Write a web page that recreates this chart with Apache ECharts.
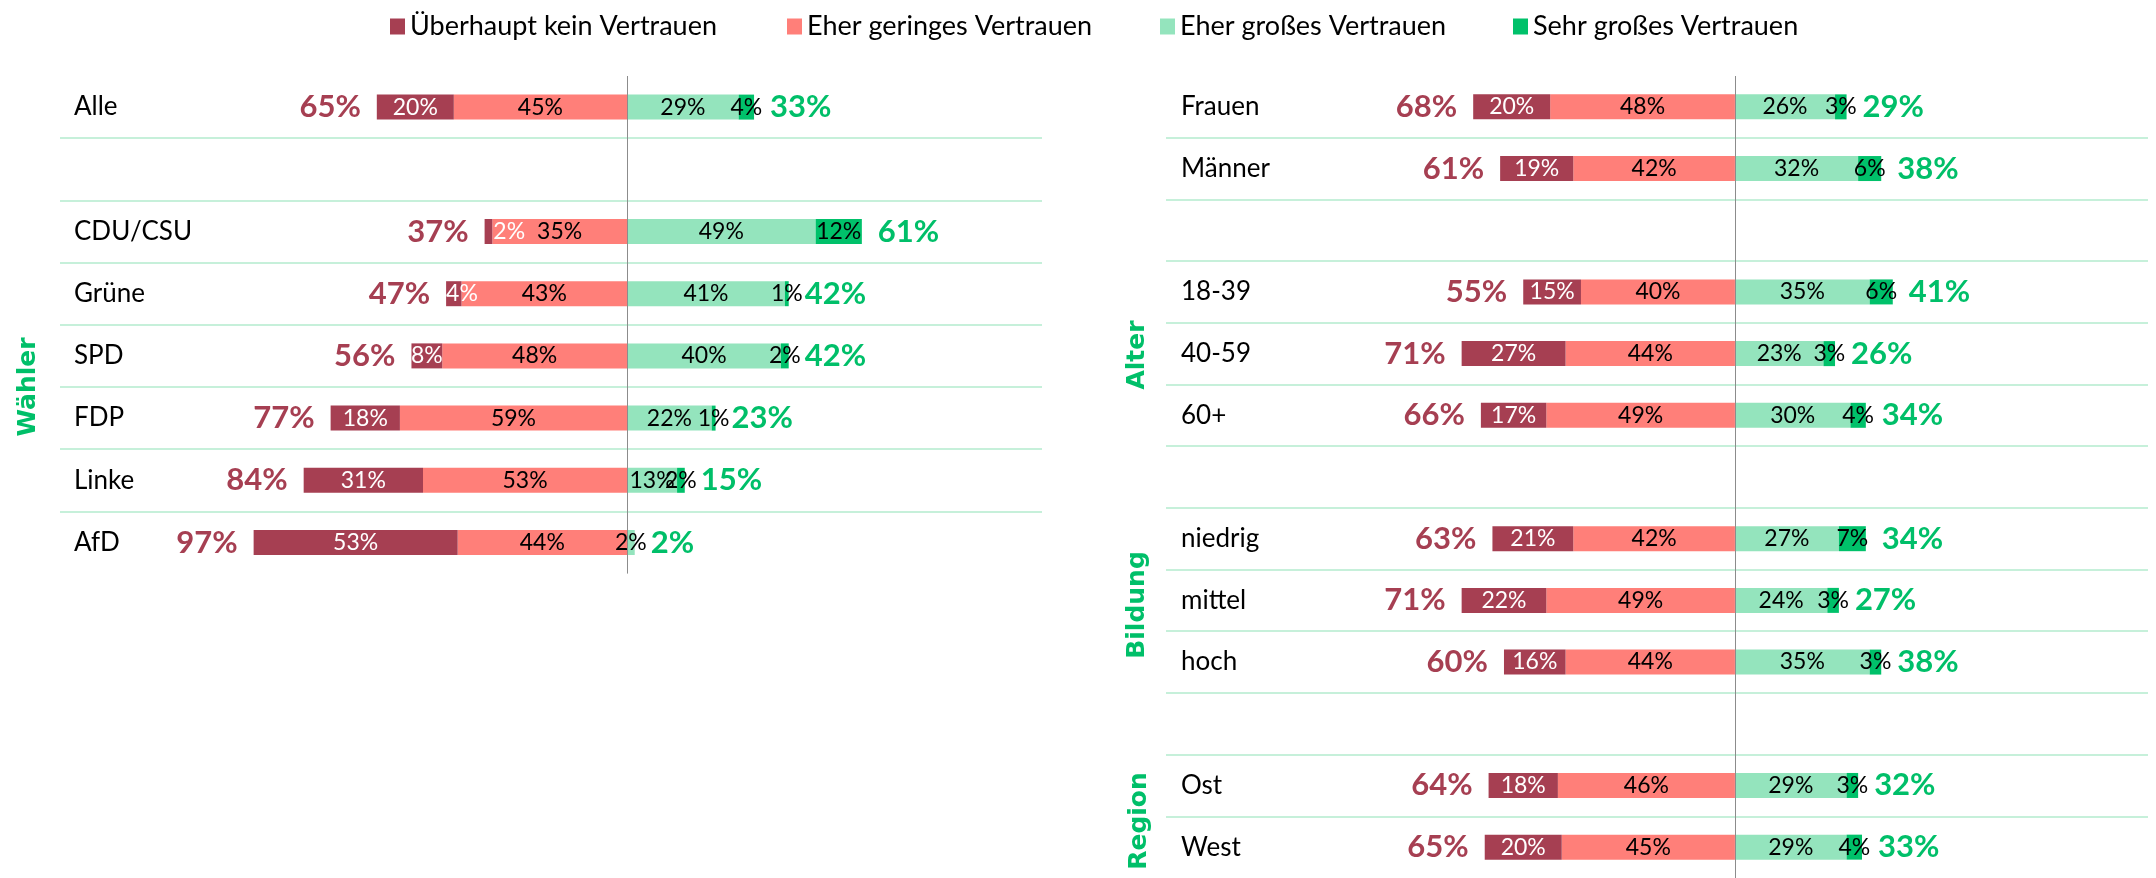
<!DOCTYPE html>
<html>
<head>
<meta charset="utf-8">
<script src="https://cdn.jsdelivr.net/npm/echarts@6/dist/echarts.min.js"></script>
<style>
  html, body { margin: 0; padding: 0; background: #fff; }
  #main { width: 2156px; height: 878px; }
</style>
</head>
<body>
<div id="main"></div>
<script>
// Vertrauen nach Gruppen (Werte in %)
const leftCats = ['Alle', ' ', 'CDU/CSU', 'Grüne', 'SPD', 'FDP', 'Linke', 'AfD'];
const leftKein = [20, null, 2, 4, 8, 18, 31, 53];
const leftGering = [45, null, 35, 43, 48, 59, 53, 44];
const leftEherGross = [29, null, 49, 41, 40, 22, 13, 2];
const leftSehrGross = [4, null, 12, 1, 2, 1, 2, 0];
const leftTotalNeg = [65, null, 37, 47, 56, 77, 84, 97];
const leftTotalPos = [33, null, 61, 42, 42, 23, 15, 2];

const rightCats = ['Frauen', 'Männer', ' ', '18-39', '40-59', '60+', '  ', 'niedrig', 'mittel', 'hoch', '   ', 'Ost', 'West'];
const rightKein = [20, 19, null, 15, 27, 17, null, 21, 22, 16, null, 18, 20];
const rightGering = [48, 42, null, 40, 44, 49, null, 42, 49, 44, null, 46, 45];
const rightEherGross = [26, 32, null, 35, 23, 30, null, 27, 24, 35, null, 29, 29];
const rightSehrGross = [3, 6, null, 6, 3, 4, null, 7, 3, 3, null, 3, 4];
const rightTotalNeg = [68, 61, null, 55, 71, 66, null, 63, 71, 60, null, 64, 65];
const rightTotalPos = [29, 38, null, 41, 26, 34, null, 34, 27, 38, null, 32, 33];

const names = ['Überhaupt kein Vertrauen', 'Eher geringes Vertrauen', 'Eher großes Vertrauen', 'Sehr großes Vertrauen'];
const colors = ['#A63F52', '#FF7F79', '#94E4BD', '#00C16A'];
const legendLeft = [385, 782, 1155, 1508];
const FONT = 'Lato';
const GREEN_TXT = '#00BF69';

const neg = arr => arr.map(v => (v == null ? null : -v));
const pct = p => (p.value ? Math.abs(p.value) + '%' : '');

// small dark red segments: keep the white label over the bar
function keinData(arr) {
  return arr.map(v => {
    if (v == null) return null;
    if (v <= 2) return { value: -v, label: { position: 'right', distance: 1 } };
    if (v < 6) return { value: -v, label: { position: 'insideLeft', distance: 0 } };
    return -v;
  });
}

function panelSeries(idx, kein, gering, eherGross, sehrGross, totNeg, totPos) {
  const base = {
    type: 'bar', stack: 'v' + idx, xAxisIndex: idx, yAxisIndex: idx,
    barWidth: 25, barGap: '-100%',
    label: { show: true, position: 'inside', fontFamily: FONT, fontSize: 23, color: '#000', formatter: pct }
  };
  const tot = {
    type: 'bar', xAxisIndex: idx, yAxisIndex: idx, barWidth: 25, barGap: '-100%',
    silent: true, itemStyle: { color: 'rgba(0,0,0,0)' }
  };
  const totLabel = { show: true, distance: 16, fontFamily: FONT, fontSize: 31, fontWeight: 'bold', formatter: pct };
  return [
    Object.assign({}, base, { name: names[1], itemStyle: { color: colors[1] }, data: neg(gering) }),
    Object.assign({}, base, {
      name: names[0], itemStyle: { color: colors[0] }, data: keinData(kein),
      label: Object.assign({}, base.label, { color: '#fff' })
    }),
    Object.assign({}, base, {
      name: names[2], itemStyle: { color: colors[2] }, data: eherGross,
      markLine: {
        silent: true, symbol: ['none', 'none'], label: { show: false },
        lineStyle: { color: '#8c8c8c', width: 1, type: 'solid' },
        data: [{ xAxis: 0 }]
      }
    }),
    Object.assign({}, base, { name: names[3], itemStyle: { color: colors[3] }, data: sehrGross }),
    Object.assign({}, tot, { stack: 'tn' + idx, data: neg(totNeg),
      label: Object.assign({}, totLabel, { position: 'left', color: colors[0] }) }),
    Object.assign({}, tot, { stack: 'tp' + idx, data: totPos,
      label: Object.assign({}, totLabel, { position: 'right', color: GREEN_TXT }) })
  ];
}

function catAxis(idx, cats, margin) {
  return {
    type: 'category', gridIndex: idx, data: cats, inverse: true,
    axisLine: { show: false }, axisTick: { show: false },
    axisLabel: { inside: true, margin: margin, fontFamily: FONT, fontSize: 26, color: '#000' },
    splitLine: { show: true, showMinLine: false, showMaxLine: false, lineStyle: { color: '#C6F0DA', width: 2 } }
  };
}

function heading(text, x, y) {
  return {
    type: 'text', x: x, y: y, rotation: Math.PI / 2,
    style: { text: text, fontFamily: 'DejaVu Sans', fontWeight: 'bold', fontSize: 25, fill: GREEN_TXT, align: 'center', verticalAlign: 'middle' }
  };
}

const chart = echarts.init(document.getElementById('main'));
chart.setOption({
  animation: false,
  legend: names.map((n, i) => ({
    data: [n], left: legendLeft[i], top: 8, itemWidth: 15, itemHeight: 16, itemGap: 8,
    icon: 'rect', textStyle: { fontFamily: FONT, fontSize: 27, color: '#000' }
  })),
  grid: [
    { left: 60, top: 76, width: 982, height: 497.6 },
    { left: 1166, top: 76, width: 982, height: 808.6 }
  ],
  xAxis: [
    { type: 'value', gridIndex: 0, min: -147.3, max: 107.8, show: false },
    { type: 'value', gridIndex: 1, min: -147.8, max: 107.3, show: false }
  ],
  yAxis: [catAxis(0, leftCats, 14), catAxis(1, rightCats, 15)],
  graphic: [
    heading('Wähler', 28, 387),
    heading('Alter', 1137, 355),
    heading('Bildung', 1137, 605),
    heading('Region', 1139, 821)
  ],
  series: [].concat(
    panelSeries(0, leftKein, leftGering, leftEherGross, leftSehrGross, leftTotalNeg, leftTotalPos),
    panelSeries(1, rightKein, rightGering, rightEherGross, rightSehrGross, rightTotalNeg, rightTotalPos)
  )
});
</script>
</body>
</html>
